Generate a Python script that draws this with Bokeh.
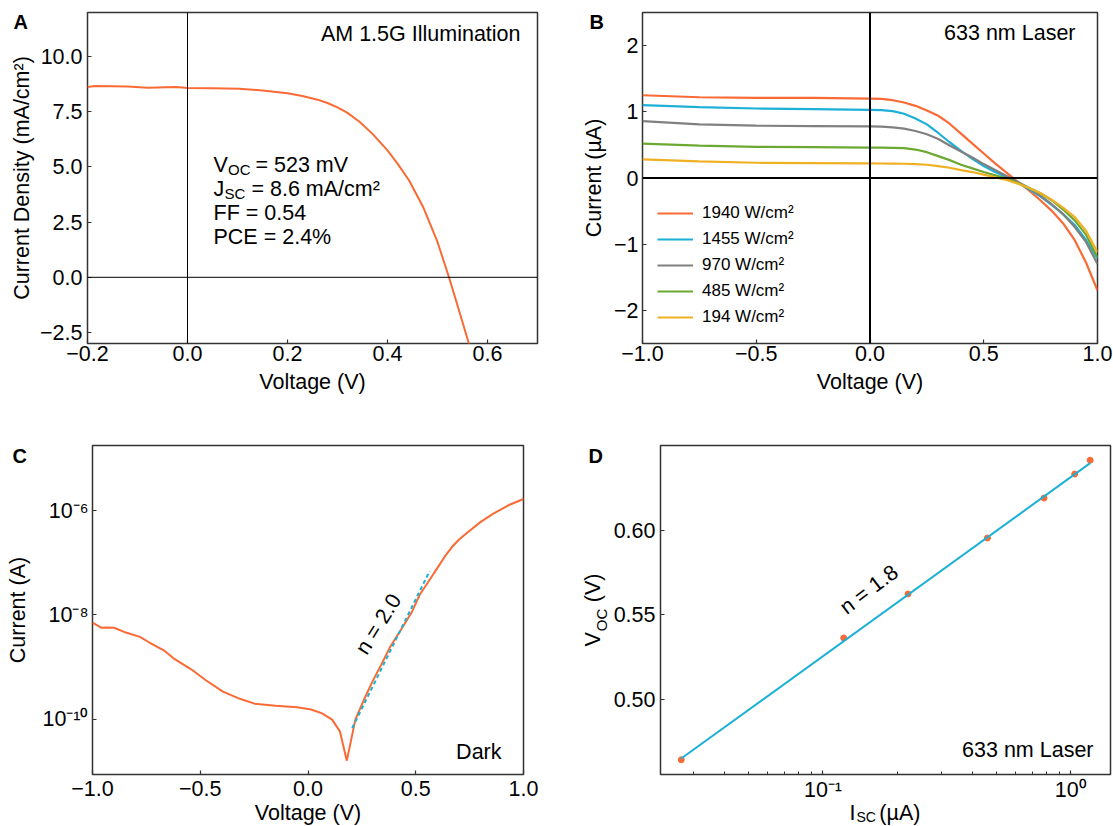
import math
from bokeh.plotting import figure
from bokeh.models import (Span, Label, FixedTicker, CustomJSTickFormatter, Legend,
                          LegendItem, Range1d)
from bokeh.layouts import column, row
from bokeh.embed import file_html
from bokeh.resources import INLINE

FONT = "Liberation Sans"
FS = "21.5px"
ORANGE = "#FA6A35"
CYAN = "#1CB0D6"
GRAY = "#808080"
GREEN = "#6CA932"
YELLOW = "#F0B024"
NB = "\u00a0"

# ---------------- Panel A : AM 1.5G J-V ----------------
VA = [-0.2, -0.185, -0.12, -0.079, -0.022, 0.0, 0.05, 0.104, 0.15, 0.2, 0.23, 0.26,
      0.28, 0.30, 0.32, 0.344, 0.37, 0.40, 0.42, 0.443, 0.471, 0.50, 0.523, 0.545, 0.568]
JA = [8.62, 8.67, 8.65, 8.59, 8.62, 8.58, 8.57, 8.55, 8.47, 8.34, 8.22, 8.05,
      7.90, 7.70, 7.45, 7.05, 6.50, 5.75, 5.15, 4.40, 3.20, 1.60, 0.0, -1.65, -3.4]

# ---------------- Panel B : 633 nm laser I-V ----------------
VB = [-1.0, -0.75, -0.5, -0.25, 0.0, 0.05, 0.1, 0.15, 0.2, 0.25, 0.3, 0.35, 0.4, 0.45,
      0.5, 0.55, 0.6, 0.65, 0.7, 0.75, 0.8, 0.85, 0.9, 0.95, 1.0]
I_1940 = [1.25, 1.22, 1.21, 1.21, 1.20, 1.195, 1.175, 1.14, 1.09, 1.02, 0.94, 0.82, 0.67,
          0.52, 0.37, 0.22, 0.08, -0.06, -0.19, -0.34, -0.50, -0.69, -0.94, -1.28, -1.70]
I_1455 = [1.10, 1.07, 1.05, 1.04, 1.03, 1.025, 1.01, 0.97, 0.90, 0.81, 0.68, 0.54, 0.41,
          0.29, 0.18, 0.09, 0.01, -0.07, -0.17, -0.28, -0.41, -0.55, -0.71, -0.94, -1.22]
I_970 = [0.86, 0.81, 0.79, 0.785, 0.78, 0.777, 0.765, 0.745, 0.71, 0.66, 0.59, 0.49, 0.40,
         0.31, 0.21, 0.12, 0.03, -0.06, -0.15, -0.27, -0.40, -0.55, -0.74, -0.97, -1.30]
I_485 = [0.52, 0.49, 0.47, 0.465, 0.46, 0.458, 0.455, 0.45, 0.43, 0.39, 0.33, 0.27, 0.20,
         0.145, 0.09, 0.04, -0.01, -0.075, -0.15, -0.23, -0.34, -0.48, -0.64, -0.86, -1.20]
I_194 = [0.28, 0.25, 0.23, 0.225, 0.22, 0.219, 0.217, 0.215, 0.21, 0.20, 0.18, 0.155, 0.12,
         0.09, 0.05, 0.01, -0.03, -0.085, -0.15, -0.23, -0.33, -0.45, -0.59, -0.80, -1.12]
B_LABELS = ["1940 W/cm²", "1455 W/cm²", "970 W/cm²", "485 W/cm²", "194 W/cm²"]

# ---------------- Panel C : dark I-V (log) ----------------
VC = [-1.0, -0.96, -0.934, -0.90, -0.845, -0.78, -0.738, -0.665, -0.624, -0.542,
      -0.477, -0.395, -0.313, -0.248, -0.15, -0.05, 0.014, 0.063, 0.112, 0.148,
      0.18, 0.20, 0.22, 0.26, 0.30, 0.34, 0.38, 0.43, 0.48, 0.52, 0.57, 0.60, 0.635,
      0.668, 0.70, 0.733, 0.80, 0.86, 0.93, 1.0]
IC = [7.1e-9, 5.7e-9, 5.75e-9, 5.7e-9, 4.6e-9, 3.8e-9, 3.0e-9, 2.05e-9, 1.48e-9, 9.1e-10,
      5.75e-10, 3.4e-10, 2.45e-10, 2.0e-10, 1.82e-10, 1.70e-10, 1.55e-10, 1.32e-10, 9.9e-11, 5.9e-11,
      1.62e-11, 4.0e-11, 1.0e-10, 2.4e-10, 5.4e-10, 1.12e-9, 2.4e-9, 5.1e-9, 1.1e-8, 2.5e-8, 5.1e-8,
      7.9e-8, 1.32e-7, 2.0e-7, 2.75e-7, 3.6e-7, 6.0e-7, 8.7e-7, 1.26e-6, 1.66e-6]
VC_FIT = [0.205, 0.565]
IC_FIT = [6.8e-11, 7.0e-8]

# ---------------- Panel D : Voc vs Isc ----------------
ISC = [0.0268, 0.1213, 0.2203, 0.461, 0.780, 1.037, 1.197]
VOC = [0.4642, 0.5362, 0.5622, 0.5953, 0.6189, 0.6331, 0.6413]
ISC_FIT = [0.0267, 1.197]
VOC_FIT = [0.4648, 0.6396]

LIN_FMT = "return tick.toFixed(%d).replace('-', '\u2212');"
LOG_FMT = """
const e = Math.round(Math.log10(tick));
const m = {"-":"\u207b","0":"\u2070","1":"\u00b9","2":"\u00b2","3":"\u00b3","4":"\u2074",
           "5":"\u2075","6":"\u2076","7":"\u2077","8":"\u2078","9":"\u2079"};
let s = "";
for (const c of String(e)) { s += m[c]; }
return "10" + s;
"""


def base_fig(w, h, xr, yr, bl, br, bt, bb, x_type="linear", y_type="linear"):
    p = figure(width=w, height=h, x_range=Range1d(*xr), y_range=Range1d(*yr),
               x_axis_type=x_type, y_axis_type=y_type, output_backend="svg",
               toolbar_location=None, min_border_left=bl, min_border_right=br,
               min_border_top=bt, min_border_bottom=bb)
    p.xgrid.visible = False
    p.ygrid.visible = False
    p.outline_line_color = "#333333"
    p.outline_line_width = 1.5
    p.background_fill_color = "white"
    p.border_fill_color = "white"
    for ax in (p.xaxis[0], p.yaxis[0]):
        ax.axis_line_color = None
        ax.major_tick_in = 4
        ax.major_tick_out = 0
        ax.major_tick_line_color = "#333333"
        ax.major_tick_line_width = 1.2
        ax.minor_tick_line_color = None
        ax.major_label_text_font = FONT
        ax.major_label_text_font_size = FS
        ax.major_label_text_color = "black"
        ax.axis_label_text_font = FONT
        ax.axis_label_text_font_size = FS
        ax.axis_label_text_font_style = "normal"
        ax.axis_label_text_color = "black"
    p.xaxis[0].major_label_standoff = 2
    return p


def mk(x, y, text, dx=0, dy=0, size=FS, align="left", baseline="middle",
       bold=False, angle=0.0):
    return Label(x=x, y=y, text=text, x_offset=dx, y_offset=dy, text_font=FONT,
                 text_font_size=size, text_align=align, text_baseline=baseline,
                 text_font_style="bold" if bold else "normal", angle=angle,
                 text_color="black")


def lab(p, *a, side="center", **k):
    p.add_layout(mk(*a, **k), side)


H1 = 400   # height of the top row
W1 = 565   # width of figure A (top row)
W2 = 541   # width of figure C (bottom row)
LETTER = "20px"

# ================= A =================
pA = base_fig(W1, H1, (-0.2, 0.7), (-3.0, 12.0), 87, W1 - 537, 12, H1 - 343)
pA.xaxis[0].ticker = FixedTicker(ticks=[-0.2, 0.0, 0.2, 0.4, 0.6])
pA.xaxis[0].formatter = CustomJSTickFormatter(code=LIN_FMT % 1)
pA.yaxis[0].ticker = FixedTicker(ticks=[-2.5, 0.0, 2.5, 5.0, 7.5, 10.0])
pA.yaxis[0].formatter = CustomJSTickFormatter(code=LIN_FMT % 1)
pA.yaxis[0].axis_label = "Current Density (mA/cm²)"
pA.yaxis[0].major_label_standoff = 5
pA.yaxis[0].axis_label_standoff = 3
pA.add_layout(Span(location=0, dimension="width", line_color="black", line_width=1))
pA.add_layout(Span(location=0, dimension="height", line_color="black", line_width=1))
pA.line(VA, JA, line_color=ORANGE, line_width=2)
lab(pA, 0.25, -3.0, "Voltage (V)", dy=-38.5, align="center", side="below")
lab(pA, -0.2, 12.0, "A", dx=-74, dy=-9, size=LETTER, bold=True, side="right")
lab(pA, 0.7, 12.0, "AM 1.5G Illumination", dx=-17, dy=-21, align="right")
# parameter block
lab(pA, -0.2, 12.0, "V", dx=126, dy=-152)
lab(pA, -0.2, 12.0, "OC", dx=140.5, dy=-157, size="15px")
lab(pA, -0.2, 12.0, NB + "= 523 mV", dx=162, dy=-152)
lab(pA, -0.2, 12.0, "J", dx=126, dy=-176)
lab(pA, -0.2, 12.0, "SC", dx=137, dy=-181, size="15px")
lab(pA, -0.2, 12.0, NB + "= 8.6 mA/cm²", dx=158, dy=-176)
lab(pA, -0.2, 12.0, "FF = 0.54", dx=126, dy=-200)
lab(pA, -0.2, 12.0, "PCE = 2.4%", dx=126, dy=-224)

# ================= B =================
pB = base_fig(1113 - W1, H1, (-1.0, 1.0), (-2.5, 2.5), 642 - W1, 16, 12, H1 - 343)
pB.xaxis[0].ticker = FixedTicker(ticks=[-1.0, -0.5, 0.0, 0.5, 1.0])
pB.xaxis[0].formatter = CustomJSTickFormatter(code=LIN_FMT % 1)
pB.yaxis[0].ticker = FixedTicker(ticks=[-2, -1, 0, 1, 2])
pB.yaxis[0].formatter = CustomJSTickFormatter(code=LIN_FMT % 0)
pB.yaxis[0].axis_label = "Current (µA)"
pB.yaxis[0].major_label_standoff = 4
pB.yaxis[0].axis_label_standoff = 5
pB.add_layout(Span(location=0, dimension="width", line_color="black", line_width=2))
pB.add_layout(Span(location=0, dimension="height", line_color="black", line_width=2))
items = []
for name, ys, col in zip(B_LABELS, [I_1940, I_1455, I_970, I_485, I_194],
                         [ORANGE, CYAN, GRAY, GREEN, YELLOW]):
    r = pB.line(VB, ys, line_color=col, line_width=2.2)
    items.append(LegendItem(label=name, renderers=[r]))
leg = Legend(items=items, location=(15, 16), padding=0, margin=0, spacing=6,
             glyph_width=36, glyph_height=20, label_height=20, label_standoff=9,
             label_text_font=FONT, label_text_font_size="17px", label_text_color="black",
             border_line_alpha=0, background_fill_alpha=0)
pB.add_layout(leg)
lab(pB, 0.0, -2.5, "Voltage (V)", dy=-38.5, align="center", side="below")
lab(pB, -1.0, 2.5, "B", dx=-53, dy=-9, size=LETTER, bold=True, side="right")
lab(pB, 1.0, 2.5, "633 nm Laser", dx=-22, dy=-20.5, align="right")

# ================= C =================
H2 = 826 - H1
pC = base_fig(W2, H2, (-1.0, 1.0), (8.8e-12, 1.76e-5), 92, W2 - 523, 445 - H1, 51,
              y_type="log")
pC.xaxis[0].ticker = FixedTicker(ticks=[-1.0, -0.5, 0.0, 0.5, 1.0])
pC.xaxis[0].formatter = CustomJSTickFormatter(code=LIN_FMT % 1)
pC.xaxis[0].major_label_standoff = 6
pC.yaxis[0].ticker = FixedTicker(ticks=[1e-10, 1e-8, 1e-6])
pC.yaxis[0].formatter = CustomJSTickFormatter(code=LOG_FMT)
pC.yaxis[0].axis_label = "Current (A)"
pC.yaxis[0].major_label_standoff = 4
pC.yaxis[0].axis_label_standoff = 9
pC.line(VC, IC, line_color=ORANGE, line_width=2)
pC.line(VC_FIT, IC_FIT, line_color=CYAN, line_width=2, line_dash="4 3")
lab(pC, -1.0, 1.76e-5, "C", dx=-80, dy=-10, size=LETTER, bold=True, side="right")
lab(pC, 0.0, 8.8e-12, "Voltage (V)", dy=-38, align="center", side="above")
lab(pC, 1.0, 8.8e-12, "Dark", dx=-22, dy=22.5, align="right")
lab(pC, 0.327, 6.7e-9, "n = 2.0", align="center", angle=math.radians(58))

# ================= D =================
pD = base_fig(1113 - W2, H2, (0.0221, 1.446), (0.4555, 0.65), 660 - W2, 3, 445 - H1, 52,
              x_type="log")
pD.xaxis[0].ticker = FixedTicker(
    ticks=[0.1, 1.0],
    minor_ticks=[0.03, 0.04, 0.05, 0.06, 0.07, 0.08, 0.09,
                 0.2, 0.3, 0.4, 0.5, 0.6, 0.7, 0.8, 0.9])
pD.xaxis[0].formatter = CustomJSTickFormatter(code=LOG_FMT)
pD.xaxis[0].major_label_standoff = 3
pD.xaxis[0].minor_tick_line_color = "#333333"
pD.xaxis[0].minor_tick_in = 3
pD.xaxis[0].minor_tick_out = 0
pD.yaxis[0].ticker = FixedTicker(ticks=[0.50, 0.55, 0.60])
pD.yaxis[0].formatter = CustomJSTickFormatter(code=LIN_FMT % 2)
pD.yaxis[0].major_label_standoff = 5
pD.yaxis[0].axis_label_standoff = 6
# y label with a gap where the subscript goes
pD.yaxis[0].axis_label = "V" + NB * 5 + "(V)"
pD.scatter(ISC, VOC, size=6, color=ORANGE)
pD.line(ISC_FIT, VOC_FIT, line_color=CYAN, line_width=2)
lab(pD, 0.0221, 0.65, "D", dx=-72, dy=-10, size=LETTER, bold=True, side="left")
lab(pD, 1.446, 0.4555, "633 nm Laser", dx=-17, dy=25, align="right")
lab(pD, 0.1534, 0.5648, "n = 1.8", align="center", angle=math.radians(37))
lab(pD, 0.0221, 0.4555, "I" + NB * 4 + "(µA)", dx=189, dy=-38.5, side="above")
lab(pD, 0.0221, 0.4555, "SC", dx=196, dy=-42, size="14px", side="above")
lab(pD, 0.0221, 0.4555, "OC", dx=-59.3, dy=143.3, size="15px", angle=math.pi / 2, side="left")

layout = column(row(pA, pB), row(pC, pD))
open("out.html", "w", encoding="utf-8").write(file_html(layout, INLINE))
